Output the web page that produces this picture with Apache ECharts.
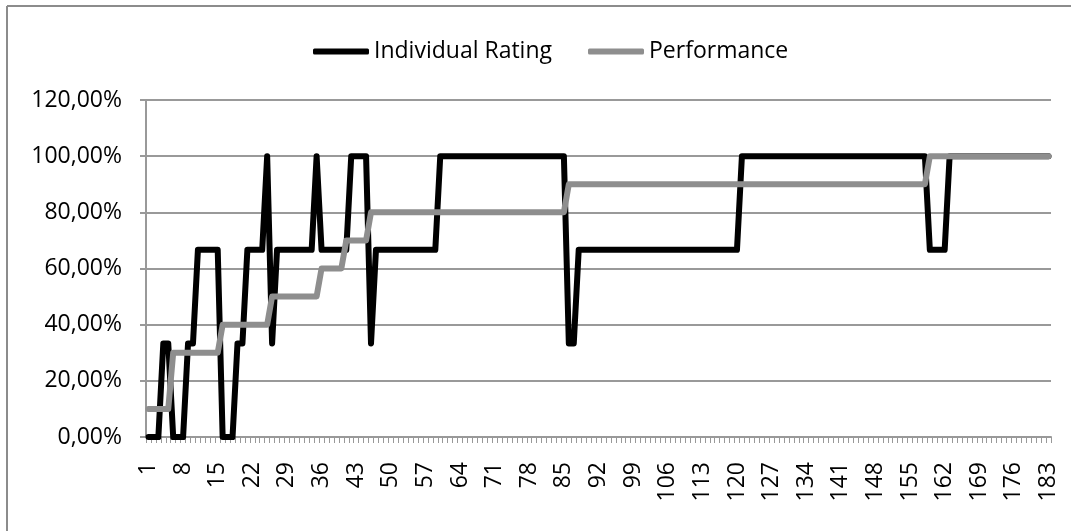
<!DOCTYPE html>
<html>
<head>
<meta charset="utf-8">
<script src="https://cdn.jsdelivr.net/npm/echarts@6/dist/echarts.min.js"></script>
<style>
html,body{margin:0;padding:0;background:#fff;}
#chart{width:1071px;height:531px;}
</style>
</head>
<body>
<div id="chart"></div>
<script>
// X categories: observation numbers 1..183
var categories = Array.from({length: 183}, function (_, i) { return String(i + 1); });

var seriesNames = ['Individual Rating', 'Performance'];

// Individual Rating (%), one value per category
var individualRating = [
  0, 0, 0, 33.33, 33.33, 0, 0, 0, 33.33, 33.33,
  66.67, 66.67, 66.67, 66.67, 66.67, 0, 0, 0, 33.33, 33.33,
  66.67, 66.67, 66.67, 66.67, 100, 33.33, 66.67, 66.67, 66.67, 66.67,
  66.67, 66.67, 66.67, 66.67, 100, 66.67, 66.67, 66.67, 66.67, 66.67,
  66.67, 100, 100, 100, 100, 33.33, 66.67, 66.67, 66.67, 66.67,
  66.67, 66.67, 66.67, 66.67, 66.67, 66.67, 66.67, 66.67, 66.67, 100,
  100, 100, 100, 100, 100, 100, 100, 100, 100, 100,
  100, 100, 100, 100, 100, 100, 100, 100, 100, 100,
  100, 100, 100, 100, 100, 33.33, 33.33, 66.67, 66.67, 66.67,
  66.67, 66.67, 66.67, 66.67, 66.67, 66.67, 66.67, 66.67, 66.67, 66.67,
  66.67, 66.67, 66.67, 66.67, 66.67, 66.67, 66.67, 66.67, 66.67, 66.67,
  66.67, 66.67, 66.67, 66.67, 66.67, 66.67, 66.67, 66.67, 66.67, 66.67,
  100, 100, 100, 100, 100, 100, 100, 100, 100, 100,
  100, 100, 100, 100, 100, 100, 100, 100, 100, 100,
  100, 100, 100, 100, 100, 100, 100, 100, 100, 100,
  100, 100, 100, 100, 100, 100, 100, 100, 66.67, 66.67,
  66.67, 66.67, 100, 100, 100, 100, 100, 100, 100, 100,
  100, 100, 100, 100, 100, 100, 100, 100, 100, 100,
  100, 100, 100
];

// Performance (%), one value per category
var performance = [
  10, 10, 10, 10, 10, 30, 30, 30, 30, 30,
  30, 30, 30, 30, 30, 40, 40, 40, 40, 40,
  40, 40, 40, 40, 40, 50, 50, 50, 50, 50,
  50, 50, 50, 50, 50, 60, 60, 60, 60, 60,
  70, 70, 70, 70, 70, 80, 80, 80, 80, 80,
  80, 80, 80, 80, 80, 80, 80, 80, 80, 80,
  80, 80, 80, 80, 80, 80, 80, 80, 80, 80,
  80, 80, 80, 80, 80, 80, 80, 80, 80, 80,
  80, 80, 80, 80, 80, 90, 90, 90, 90, 90,
  90, 90, 90, 90, 90, 90, 90, 90, 90, 90,
  90, 90, 90, 90, 90, 90, 90, 90, 90, 90,
  90, 90, 90, 90, 90, 90, 90, 90, 90, 90,
  90, 90, 90, 90, 90, 90, 90, 90, 90, 90,
  90, 90, 90, 90, 90, 90, 90, 90, 90, 90,
  90, 90, 90, 90, 90, 90, 90, 90, 90, 90,
  90, 90, 90, 90, 90, 90, 90, 90, 100, 100,
  100, 100, 100, 100, 100, 100, 100, 100, 100, 100,
  100, 100, 100, 100, 100, 100, 100, 100, 100, 100,
  100, 100, 100
];

// Y axis tick values
var yTicks = [0, 20, 40, 60, 80, 100, 120];

var FONT = "'Open Sans', 'Noto Sans', sans-serif";
var GRID_COLOR = '#999999';

var chart = echarts.init(document.getElementById('chart'), null, {renderer: 'canvas'});

chart.setOption({
  animation: false,
  backgroundColor: '#ffffff',
  textStyle: {fontFamily: FONT},
  graphic: [
    {type: 'line', shape: {x1: 7, y1: 6, x2: 1071, y2: 6}, style: {stroke: '#8c8c8c', lineWidth: 2}, silent: true},
    {type: 'line', shape: {x1: 7, y1: 6, x2: 7, y2: 531}, style: {stroke: '#8c8c8c', lineWidth: 2}, silent: true}
  ],
  legend: {
    data: seriesNames,
    left: 308,
    top: 35,
    icon: 'roundRect',
    itemWidth: 56,
    itemHeight: 6,
    itemGap: 36,
    textStyle: {fontFamily: FONT, fontSize: 23, color: '#000'}
  },
  grid: {left: 146, right: 20, top: 100, bottom: 94, containLabel: false},
  xAxis: {
    type: 'category',
    data: categories,
    boundaryGap: true,
    axisLine: {show: true, lineStyle: {color: GRID_COLOR, width: 2}},
    axisTick: {show: true, interval: 0, length: 6, lineStyle: {color: GRID_COLOR, width: 1}},
    axisLabel: {interval: 6, rotate: 90, margin: 25, fontFamily: FONT, fontSize: 23, color: '#000'},
    splitLine: {show: false}
  },
  yAxis: {
    type: 'value',
    min: yTicks[0],
    max: yTicks[yTicks.length - 1],
    interval: yTicks[1] - yTicks[0],
    axisLine: {show: true, lineStyle: {color: GRID_COLOR, width: 2}},
    axisTick: {show: true, length: 6, lineStyle: {color: GRID_COLOR, width: 2}},
    axisLabel: {
      margin: 24,
      fontFamily: FONT,
      fontSize: 23,
      color: '#000',
      formatter: function (v) { return v.toFixed(2).replace('.', ',') + '%'; }
    },
    splitLine: {show: true, lineStyle: {color: GRID_COLOR, width: 2}}
  },
  series: [
    {
      name: seriesNames[0],
      type: 'line',
      data: individualRating,
      symbol: 'none',
      smooth: false,
      color: '#000000',
      lineStyle: {color: '#000000', width: 6, cap: 'round', join: 'round'},
      z: 2
    },
    {
      name: seriesNames[1],
      type: 'line',
      data: performance,
      symbol: 'none',
      smooth: false,
      color: '#8e8e8e',
      lineStyle: {color: '#8e8e8e', width: 6, cap: 'round', join: 'round'},
      z: 3
    }
  ]
});
</script>
</body>
</html>
